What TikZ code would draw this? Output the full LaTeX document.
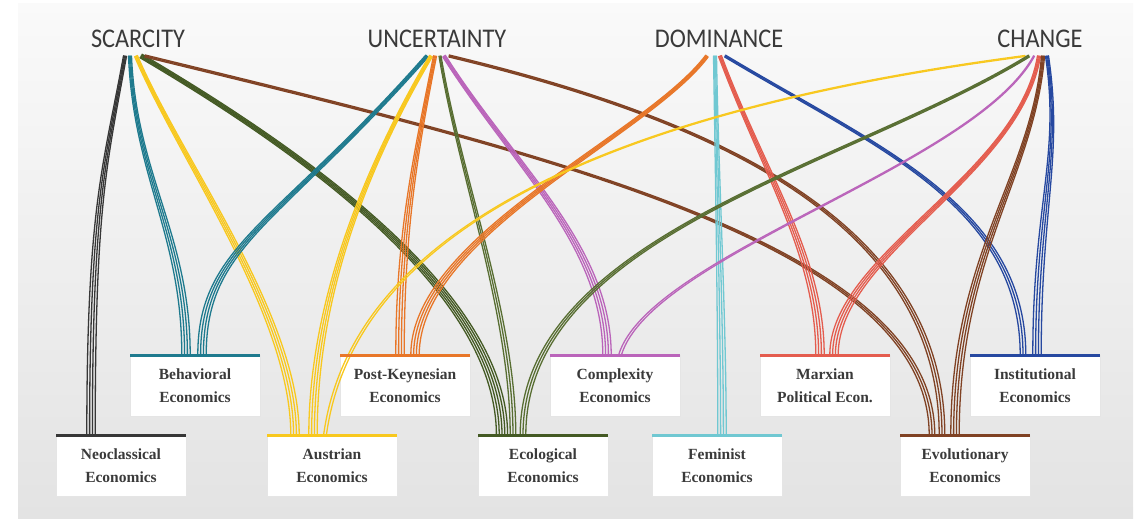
\documentclass[tikz,border=0pt]{standalone}
\usepackage{fontspec}
\setmainfont{Liberation Serif}
\newfontfamily\policetitre[FakeStretch=0.9]{Carlito}
\definecolor{gristexte}{RGB}{58,58,58}
\definecolor{noir}{RGB}{55,55,55}
\definecolor{sarcelle}{RGB}{30,122,142}
\definecolor{jaune}{RGB}{248,200,30}
\definecolor{olive}{RGB}{88,110,50}
\definecolor{oliveF}{RGB}{68,90,36}
\definecolor{brun}{RGB}{128,66,36}
\definecolor{orangeK}{RGB}{232,118,40}
\definecolor{mauve}{RGB}{186,100,186}
\definecolor{cyanF}{RGB}{112,200,210}
\definecolor{rouge}{RGB}{228,92,78}
\definecolor{bleu}{RGB}{38,72,160}
\begin{document}
\begin{tikzpicture}[x=1pt,y=-1pt]
% Styles
\tikzstyle{titre}=[font=\policetitre\fontsize{27}{27}\selectfont,text=gristexte,inner sep=0pt]
\tikzstyle{boite}=[fill=white,draw=black!10,line width=0.6pt,minimum width=130pt,minimum height=61pt,inner sep=0pt,outer sep=0pt,align=center,font=\bfseries\fontsize{15.5}{23}\selectfont,text=gristexte]
\tikzstyle{barre}=[line width=3pt]
\tikzstyle{brin}=[line width=1.3pt,line cap=round]
% Dimensions
\def\LigneTitres{39}
\def\RangHaut{385.5}
\def\RangBas{465.5}
\def\EcartHaut{1.0}
\def\Ecart{2.8}
% Faisceau : couleur, nb de brins, depart, decalage, arrivee, decalage,
% premier controle (a,b) et second controle
\def\faisceau#1#2#3#4#5#6#7#8#9{%
  \foreach \k in {1,...,#2}{%
    \pgfmathsetmacro\dec{\k-(#2+1)/2}%
    \pgfmathsetmacro\nrm{veclen((#7)/100,(#8)/100)}%
    \pgfmathsetmacro\px{\EcartHaut*(\dec)*(#8)/100/\nrm}%
    \pgfmathsetmacro\py{-\EcartHaut*(\dec)*(#7)/100/\nrm}%
    \draw[brin,#1] ([shift={({#4+\px},{17+\py})}]#3.center) .. controls +(#7,#8) and +#9 .. ([shift={({#6+\Ecart*(\dec)},0)}]#5.north);
  }}
% Fond
\useasboundingbox (0,0) rectangle (1140,519);
\shade[top color=black!2,bottom color=black!11] (18,4) rectangle (1133,519);
% Titres
\node[titre] (Rar) at (138,\LigneTitres) {SCARCITY};
\node[titre] (Inc) at (437,\LigneTitres) {UNCERTAINTY};
\node[titre] (Dom) at (719,\LigneTitres) {DOMINANCE};
\node[titre] (Chg) at (1040,\LigneTitres) {CHANGE};
% Boites
\node[boite] (Neo) at (121,\RangBas) {Neoclassical\\Economics};
\node[boite] (Beh) at (195,\RangHaut) {Behavioral\\Economics};
\node[boite] (Aus) at (332,\RangBas) {Austrian\\Economics};
\node[boite] (PK) at (405,\RangHaut) {Post-Keynesian\\Economics};
\node[boite] (Eco) at (543,\RangBas) {Ecological\\Economics};
\node[boite] (Com) at (615,\RangHaut) {Complexity\\Economics};
\node[boite] (Fem) at (717,\RangBas) {Feminist\\Economics};
\node[boite] (Mar) at (825,\RangHaut) {Marxian\\Political Econ.};
\node[boite] (Evo) at (965,\RangBas) {Evolutionary\\Economics};
\node[boite] (Ins) at (1035,\RangHaut) {Institutional\\Economics};
% Faisceaux depuis SCARCITY
\faisceau{noir}{4}{Rar}{-13}{Neo}{-30}{-20}{110}{(0,-230)}
\faisceau{sarcelle}{4}{Rar}{-8}{Beh}{-9}{5}{120}{(0,-120)}
\faisceau{jaune}{4}{Rar}{-2}{Aus}{-37}{45}{105}{(0,-120)}
\faisceau{oliveF}{5}{Rar}{3}{Eco}{-41}{170}{100}{(0,-140)}
\faisceau{brun}{3}{Rar}{7}{Evo}{-33}{393}{96}{(0,-192)}
% Faisceaux depuis UNCERTAINTY
\faisceau{sarcelle}{4}{Inc}{-10}{Beh}{7}{-150}{170}{(0,-110)}
\faisceau{jaune}{4}{Inc}{-6}{Aus}{-19}{-100}{170}{(0,-80)}
\faisceau{orangeK}{4}{Inc}{-2}{PK}{-5}{-20}{100}{(0,-120)}
\faisceau{olive}{3}{Inc}{3}{Eco}{-30}{20}{120}{(0,-120)}
\faisceau{mauve}{4}{Inc}{7}{Com}{-8}{70}{110}{(0,-110)}
\faisceau{brun}{3}{Inc}{12}{Evo}{-23}{250}{60}{(0,-220)}
% Faisceaux depuis DOMINANCE
\faisceau{orangeK}{4}{Dom}{-12}{PK}{10}{-60}{80}{(0,-120)}
\faisceau{cyanF}{4}{Dom}{-4}{Fem}{5}{2}{120}{(0,-120)}
\faisceau{rouge}{4}{Dom}{1}{Mar}{-5}{45}{120}{(0,-100)}
\faisceau{bleu}{3}{Dom}{6}{Ins}{-12}{150}{90}{(0,-150)}
% Faisceaux depuis CHANGE
\faisceau{jaune}{2}{Chg}{-15}{Aus}{-7}{-380}{50}{(30,-220)}
\faisceau{olive}{3}{Chg}{-11}{Eco}{-20}{-180}{110}{(0,-200)}
\faisceau{mauve}{2}{Chg}{-6}{Com}{5}{-60}{110}{(30,-100)}
\faisceau{rouge}{4}{Chg}{-1}{Mar}{9}{-20}{120}{(0,-100)}
\faisceau{brun}{4}{Chg}{3}{Evo}{-10}{-10}{120}{(0,-180)}
\faisceau{bleu}{4}{Chg}{7}{Ins}{2}{15}{100}{(0,-150)}
% Barres de couleur
\draw[barre,noir] (Neo.north west)--(Neo.north east);
\draw[barre,sarcelle] (Beh.north west)--(Beh.north east);
\draw[barre,jaune] (Aus.north west)--(Aus.north east);
\draw[barre,orangeK] (PK.north west)--(PK.north east);
\draw[barre,oliveF] (Eco.north west)--(Eco.north east);
\draw[barre,mauve] (Com.north west)--(Com.north east);
\draw[barre,cyanF] (Fem.north west)--(Fem.north east);
\draw[barre,rouge] (Mar.north west)--(Mar.north east);
\draw[barre,brun] (Evo.north west)--(Evo.north east);
\draw[barre,bleu] (Ins.north west)--(Ins.north east);
\end{tikzpicture}
\end{document}
